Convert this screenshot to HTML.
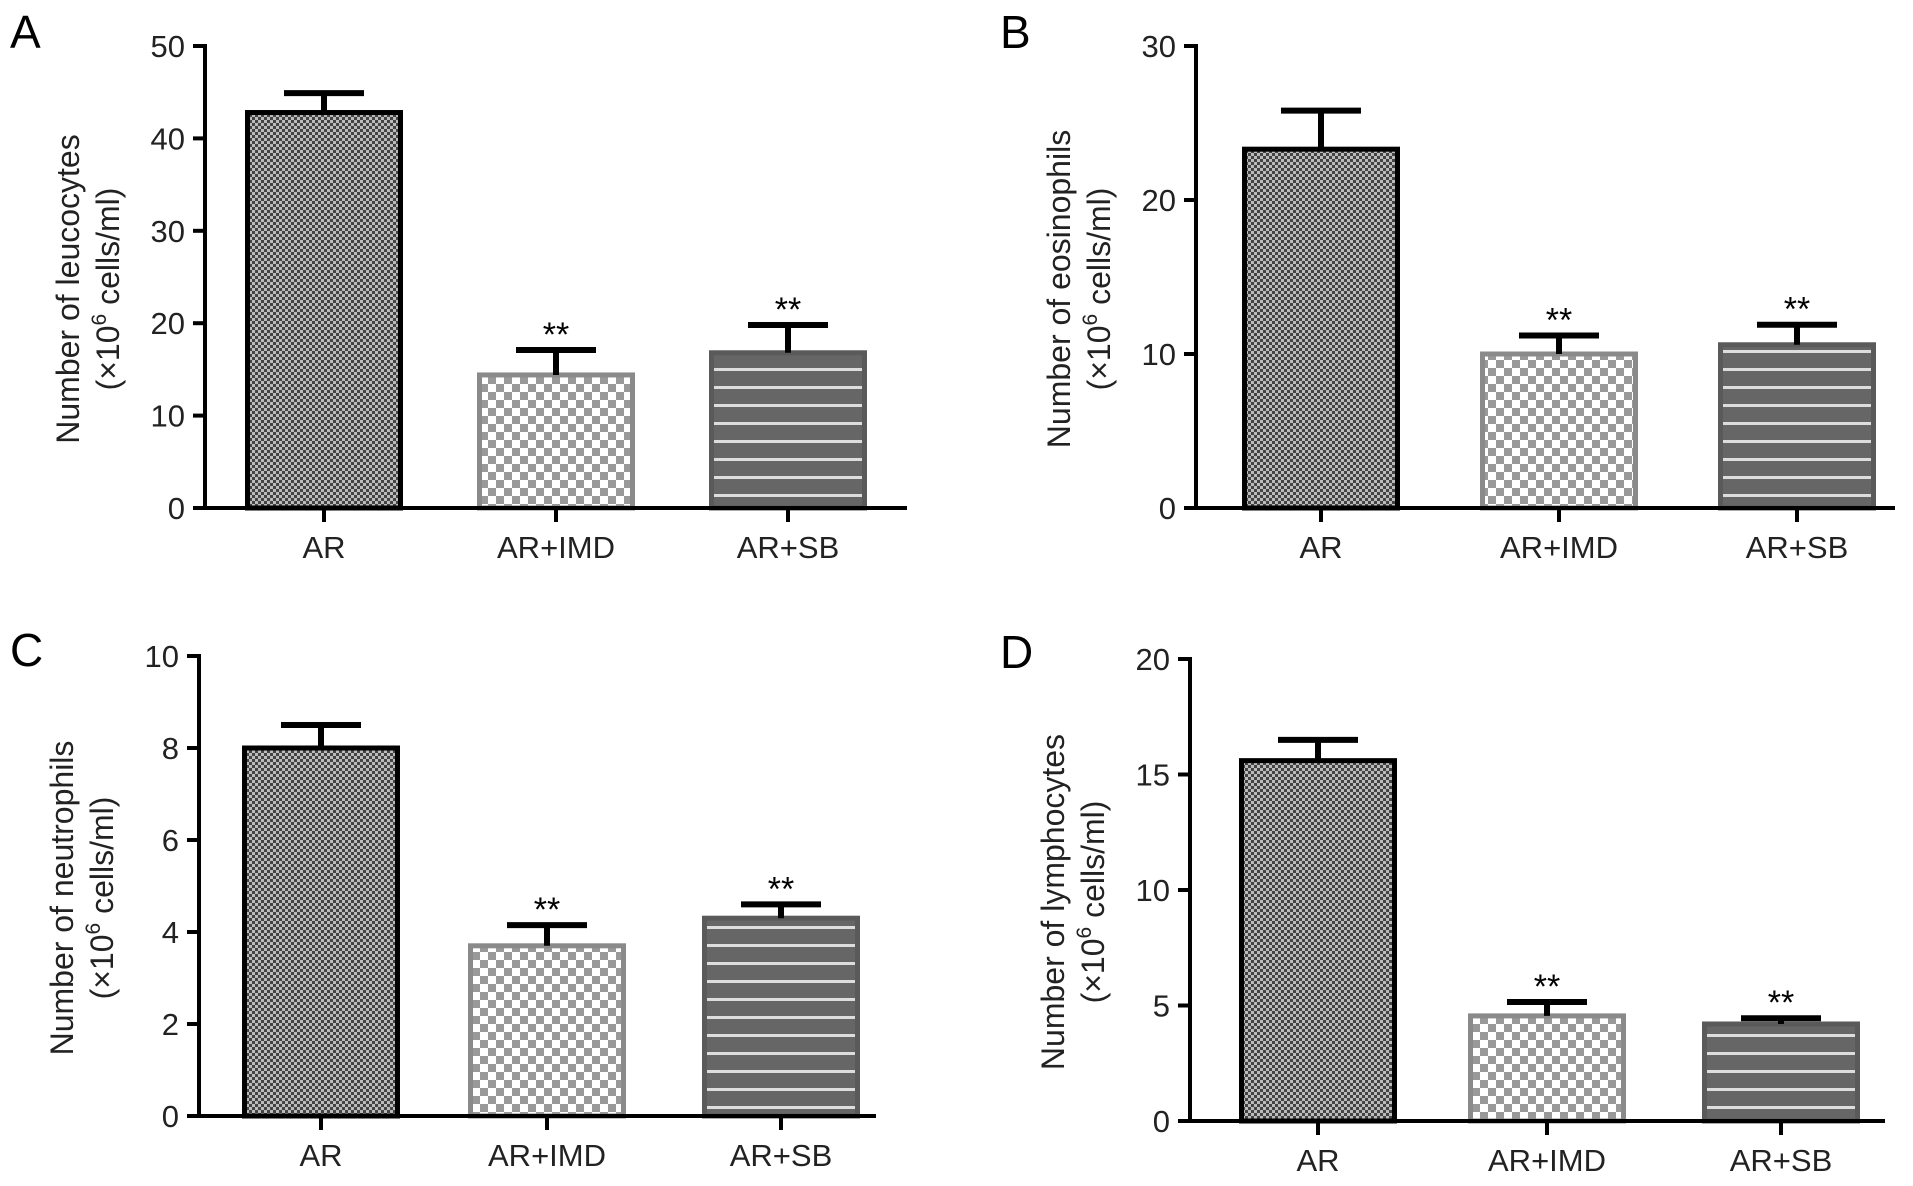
<!DOCTYPE html>
<html><head><meta charset="utf-8"><style>
html,body{margin:0;padding:0;background:#fff;}
svg{display:block;font-family:"Liberation Sans",Arial,sans-serif;}
</style></head><body>
<svg id="fig" width="1913" height="1186" viewBox="0 0 1913 1186" xmlns="http://www.w3.org/2000/svg">
<defs>
<pattern id="patAR" width="6" height="6" patternUnits="userSpaceOnUse">
<rect width="6" height="6" fill="#444"/><rect width="3" height="3" fill="#bbb"/><rect x="3" y="3" width="3" height="3" fill="#bbb"/>
</pattern>
<pattern id="patIMD" width="16" height="16" patternUnits="userSpaceOnUse">
<rect width="16" height="16" fill="#fff"/><rect width="8" height="8" fill="#999"/><rect x="8" y="8" width="8" height="8" fill="#999"/>
</pattern>
<pattern id="patSB" width="10" height="18" patternUnits="userSpaceOnUse">
<rect width="10" height="18" fill="#666"/><rect y="8" width="10" height="3" fill="#ddd"/>
</pattern>
</defs>
</svg>
<script>
const categories = ["AR","AR+IMD","AR+SB"];
const panelLetters = ["A","B","C","D"];
const titleLines = ["Number of leucocytes","Number of eosinophils","Number of neutrophils","Number of lymphocytes"];
const meansA = [42.8, 14.4, 16.8];
const errsA = [2.1, 2.7, 3.0];
const meansB = [23.3, 10.0, 10.6];
const errsB = [2.5, 1.2, 1.3];
const meansC = [8.0, 3.7, 4.3];
const errsC = [0.5, 0.45, 0.3];
const meansD = [15.6, 4.55, 4.2];
const errsD = [0.9, 0.6, 0.25];
const sigFlags = [false, true, true];
const ticksA = [0,10,20,30,40,50];
const ticksB = [0,10,20,30];
const ticksC = [0,2,4,6,8,10];
const ticksD = [0,5,10,15,20];

const NS = "http://www.w3.org/2000/svg";
const svg = document.getElementById("fig");
function el(tag, attrs, parent){
  const e = document.createElementNS(NS, tag);
  for (const k in attrs) e.setAttribute(k, attrs[k]);
  (parent||svg).appendChild(e);
  return e;
}
const layouts = [
  {ax:205, y0:508, yt:46, xe:907, tx:[324,556,788], lx:30, ly:30},
  {ax:1196, y0:508, yt:46, xe:1895, tx:[1321,1559,1797], lx:1020, ly:30},
  {ax:199, y0:1116, yt:656, xe:876, tx:[321,547,781], lx:30, ly:648},
  {ax:1190, y0:1121, yt:659, xe:1885, tx:[1318,1547,1781], lx:1020, ly:650}
];
const allMeans = [meansA, meansB, meansC, meansD];
const allErrs = [errsA, errsB, errsC, errsD];
const allTicks = [ticksA, ticksB, ticksC, ticksD];
const fills = ["url(#patAR)","url(#patIMD)","url(#patSB)"];
const strokes = ["#000","#8a8a8a","#5a5a5a"];
const barW = 158;

layouts.forEach((L, p) => {
  const g = el("g", {});
  
  
  const ticks = allTicks[p];
  const ymax = ticks[ticks.length-1];
  const yS = v => L.y0 - (v / ymax) * (L.y0 - L.yt);

  const letter = el("text", {x:L.lx-20, y:L.ly+18, "font-size":46, fill:"#000"}, g);
  letter.textContent = panelLetters[p];
  
  

  allMeans[p].forEach((v, i) => {
    const cx = L.tx[i];
    const top = yS(v);
    const bar = el("rect", {x:cx-barW/2+2.5, y:top, width:barW-5, height:L.y0-top, fill:fills[i], stroke:strokes[i], "stroke-width":5}, g);
    
    
    const eTop = yS(v + allErrs[p][i]);
    const eb = el("path", {d:`M${cx},${top} V${eTop} M${cx-40},${eTop} H${cx+40}`, stroke:"#000", "stroke-width":6, fill:"none"}, g);
    
    
    if (sigFlags[i]) {
      const s = el("text", {x:cx, y:eTop-4, "font-size":34, "text-anchor":"middle", fill:"#000"}, g);
      s.textContent = "**";
      
      
    }
  });

  const ya = el("line", {x1:L.ax, y1:L.yt-2, x2:L.ax, y2:L.y0+2, stroke:"#000", "stroke-width":4}, g);
  
  
  const xa = el("line", {x1:L.ax-2, y1:L.y0, x2:L.xe, y2:L.y0, stroke:"#000", "stroke-width":4}, g);
  
  

  ticks.forEach(t => {
    const y = yS(t);
    el("line", {x1:L.ax-12, y1:y, x2:L.ax, y2:y, stroke:"#000", "stroke-width":4}, g);
    const tl = el("text", {x:L.ax-20, y:y+11, "font-size":31, "text-anchor":"end", fill:"#222"}, g);
    tl.textContent = t;
    
    
  });
  categories.forEach((c, i) => {
    const cx = L.tx[i];
    el("line", {x1:cx, y1:L.y0, x2:cx, y2:L.y0+14, stroke:"#000", "stroke-width":4}, g);
    const xl = el("text", {x:cx, y:L.y0+50, "font-size":31, "text-anchor":"middle", fill:"#222"}, g);
    xl.textContent = c;
    
    
  });

  const midY = (L.y0 + L.yt) / 2 + 12;
  const tx = L.ax - 126;
  const t = el("text", {transform:`translate(${tx},${midY}) rotate(-90)`, "font-size":32, "text-anchor":"middle", fill:"#222"}, g);
  
  
  const t1 = el("tspan", {x:0, y:0}, t);
  t1.textContent = titleLines[p];
  const t2 = el("tspan", {x:0, y:40}, t);
  t2.textContent = "(×10";
  const t3 = el("tspan", {"font-size":21, dy:-13}, t);
  t3.textContent = "6";
  const t4 = el("tspan", {dy:13}, t);
  t4.textContent = " cells/ml)";
});
</script>
</body></html>
